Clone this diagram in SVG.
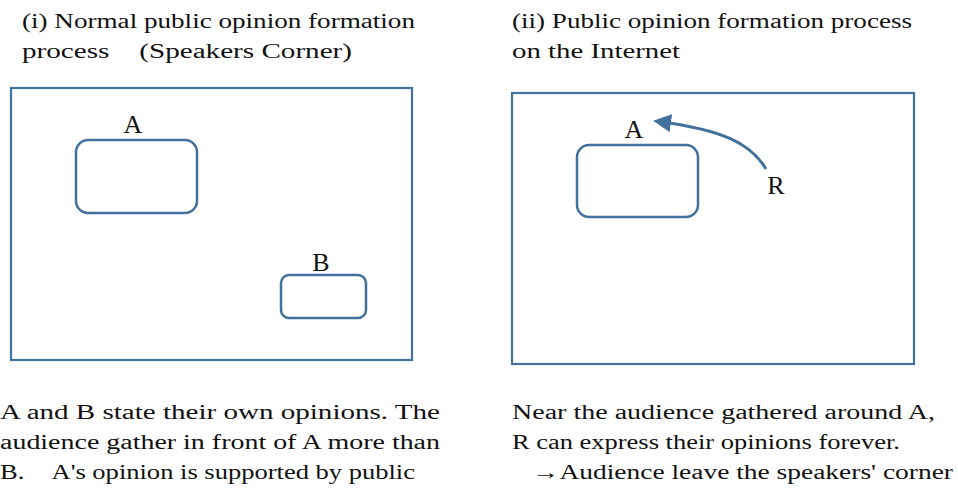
<svg xmlns="http://www.w3.org/2000/svg" width="958" height="490" viewBox="0 0 958 490">
<style>
text{font-family:"Liberation Serif","Times New Roman",serif;font-size:20.5px;fill:#111}
.lbl{font-size:26px;text-anchor:middle}
.frame{fill:none;stroke:#41719c;stroke-width:2.2}
.node{fill:#fff;stroke:#41719c;stroke-width:2.5}
.conn{fill:none;stroke:#41719c;stroke-width:3}
</style>
<defs>
<marker id="ah" markerWidth="6" markerHeight="6" refX="3" refY="3" orient="auto" markerUnits="strokeWidth">
<path d="M0,0 L6,3 L0,6 z" fill="#41719c"/>
</marker>
</defs>
<g id="titles">
<text x="22" y="28" textLength="393" lengthAdjust="spacingAndGlyphs">(i) Normal public opinion formation</text>
<text x="22" y="58" textLength="330" lengthAdjust="spacingAndGlyphs">process　(Speakers Corner)</text>
<text x="512" y="28" textLength="400" lengthAdjust="spacingAndGlyphs">(ii) Public opinion formation process</text>
<text x="512" y="58" textLength="168" lengthAdjust="spacingAndGlyphs">on the Internet</text>
</g>
<g id="panel-left">
<rect class="frame" x="11" y="88" width="401" height="272"/>
</g>
<g id="panel-right">
<rect class="frame" x="512" y="93" width="402" height="271"/>
</g>
<g id="node-A1">
<rect class="node" x="76" y="140" width="121" height="73" rx="12"/>
<text class="lbl" x="133" y="133">A</text>
</g>
<g id="node-B">
<rect class="node" x="281" y="275" width="85" height="43" rx="8"/>
<text class="lbl" x="321" y="271">B</text>
</g>
<g id="node-A2">
<rect class="node" x="577" y="145" width="121" height="72" rx="12"/>
<text class="lbl" x="634" y="138">A</text>
</g>
<g id="node-R">
<text class="lbl" x="776" y="194">R</text>
</g>
<g id="connectors">
<path class="conn" d="M766,169 C750,142 720,130 662,122" marker-end="url(#ah)"/>
</g>
<g id="captions">
<text x="0" y="419" textLength="440" lengthAdjust="spacingAndGlyphs">A and B state their own opinions. The</text>
<text x="0" y="449" textLength="440" lengthAdjust="spacingAndGlyphs">audience gather in front of A more than</text>
<text x="0" y="479" textLength="415" lengthAdjust="spacingAndGlyphs">B.　A's opinion is supported by public</text>
<text x="512" y="419" textLength="423" lengthAdjust="spacingAndGlyphs">Near the audience gathered around A,</text>
<text x="512" y="449" textLength="388" lengthAdjust="spacingAndGlyphs">R can express their opinions forever.</text>
<text x="532" y="479" textLength="421" lengthAdjust="spacingAndGlyphs">→Audience leave the speakers' corner</text>
</g>
</svg>
